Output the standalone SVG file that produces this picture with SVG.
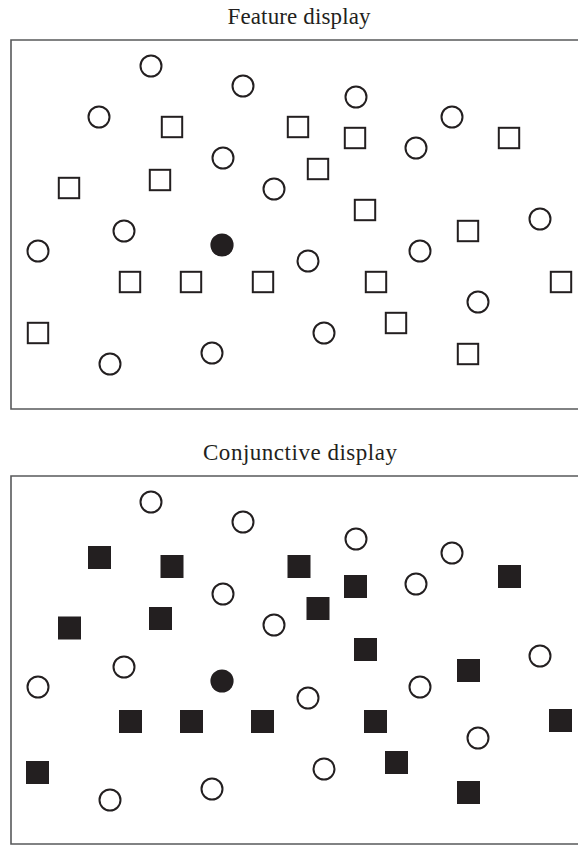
<svg xmlns="http://www.w3.org/2000/svg" xmlns:xlink="http://www.w3.org/1999/xlink" width="578" height="845" viewBox="0 0 578 845">
  <style>
    .title { font-family: "Liberation Serif", "Times New Roman", serif; font-size: 23px; fill: #231f20; text-anchor: middle; }
    .frame { fill: none; stroke: #58595b; stroke-width: 1.6; }
    .ring { fill: #ffffff; stroke: #231f20; stroke-width: 2; }
    .dot { fill: #231f20; }
    .box { fill: #ffffff; stroke: #231f20; stroke-width: 2; }
    .block { fill: #231f20; }
  </style>
  <defs>
    <circle id="ring" r="10.5" class="ring"/>
    <circle id="dot" r="11.6" class="dot"/>
    <rect id="box" x="-10.2" y="-10.2" width="20.4" height="20.4" class="box"/>
    <rect id="block" x="-11.5" y="-11.5" width="23" height="23" class="block"/>
  </defs>
  <rect width="578" height="845" fill="#ffffff"/>

  <!-- Feature display: target differs from distractors by a single feature -->
  <g id="feature-display">
    <text class="title" x="299" y="24" textLength="143" lengthAdjust="spacing">Feature display</text>
    <path class="frame" d="M590 40 H11 V409 H590"/>
    <g id="feature-circles">
      <use xlink:href="#ring" x="151" y="66"/>
      <use xlink:href="#ring" x="243" y="86"/>
      <use xlink:href="#ring" x="99" y="117"/>
      <use xlink:href="#ring" x="356" y="97"/>
      <use xlink:href="#ring" x="452" y="117"/>
      <use xlink:href="#ring" x="416" y="148"/>
      <use xlink:href="#ring" x="223" y="158"/>
      <use xlink:href="#ring" x="274" y="189"/>
      <use xlink:href="#ring" x="540" y="219"/>
      <use xlink:href="#ring" x="124" y="231"/>
      <use xlink:href="#ring" x="38" y="251"/>
      <use xlink:href="#ring" x="420" y="251"/>
      <use xlink:href="#ring" x="308" y="261"/>
      <use xlink:href="#ring" x="478" y="302"/>
      <use xlink:href="#ring" x="324" y="333"/>
      <use xlink:href="#ring" x="110" y="364"/>
      <use xlink:href="#ring" x="212" y="353"/>
    </g>
    <g id="feature-squares">
      <use xlink:href="#box" x="172" y="127"/>
      <use xlink:href="#box" x="298" y="127"/>
      <use xlink:href="#box" x="355" y="138"/>
      <use xlink:href="#box" x="509" y="138"/>
      <use xlink:href="#box" x="318" y="169"/>
      <use xlink:href="#box" x="160" y="180"/>
      <use xlink:href="#box" x="69" y="188"/>
      <use xlink:href="#box" x="365" y="210"/>
      <use xlink:href="#box" x="468" y="231"/>
      <use xlink:href="#box" x="130" y="282"/>
      <use xlink:href="#box" x="191" y="282"/>
      <use xlink:href="#box" x="263" y="282"/>
      <use xlink:href="#box" x="376" y="282"/>
      <use xlink:href="#box" x="561" y="282"/>
      <use xlink:href="#box" x="396" y="323"/>
      <use xlink:href="#box" x="38" y="333"/>
      <use xlink:href="#box" x="468" y="354"/>
    </g>
    <g id="feature-target">
      <use xlink:href="#dot" x="222" y="245"/>
    </g>
  </g>

  <!-- Conjunctive display: target shares colour with squares and shape with circles -->
  <g id="conjunctive-display">
    <text class="title" x="300" y="460" textLength="194" lengthAdjust="spacing">Conjunctive display</text>
    <path class="frame" d="M590 476 H11 V844 H590"/>
    <g id="conjunctive-circles">
      <use xlink:href="#ring" x="151" y="502"/>
      <use xlink:href="#ring" x="243" y="522"/>
      <use xlink:href="#ring" x="356" y="539"/>
      <use xlink:href="#ring" x="452" y="553"/>
      <use xlink:href="#ring" x="416" y="584"/>
      <use xlink:href="#ring" x="223" y="594"/>
      <use xlink:href="#ring" x="274" y="625"/>
      <use xlink:href="#ring" x="540" y="656"/>
      <use xlink:href="#ring" x="124" y="667"/>
      <use xlink:href="#ring" x="38" y="687"/>
      <use xlink:href="#ring" x="420" y="687"/>
      <use xlink:href="#ring" x="308" y="698"/>
      <use xlink:href="#ring" x="478" y="738"/>
      <use xlink:href="#ring" x="324" y="769"/>
      <use xlink:href="#ring" x="110" y="800"/>
      <use xlink:href="#ring" x="212" y="789"/>
    </g>
    <g id="conjunctive-squares">
      <use xlink:href="#block" x="99.5" y="557.5"/>
      <use xlink:href="#block" x="172" y="566.5"/>
      <use xlink:href="#block" x="299" y="566.5"/>
      <use xlink:href="#block" x="355.5" y="586.5"/>
      <use xlink:href="#block" x="509.5" y="576.5"/>
      <use xlink:href="#block" x="318" y="608.5"/>
      <use xlink:href="#block" x="160.5" y="618.5"/>
      <use xlink:href="#block" x="69.5" y="628"/>
      <use xlink:href="#block" x="365.5" y="649.5"/>
      <use xlink:href="#block" x="468.5" y="670.5"/>
      <use xlink:href="#block" x="130.5" y="721.5"/>
      <use xlink:href="#block" x="191.5" y="721.5"/>
      <use xlink:href="#block" x="262.5" y="721.5"/>
      <use xlink:href="#block" x="375.5" y="721.5"/>
      <use xlink:href="#block" x="560.5" y="720.5"/>
      <use xlink:href="#block" x="396.5" y="762.5"/>
      <use xlink:href="#block" x="37.5" y="772.5"/>
      <use xlink:href="#block" x="468.5" y="792.5"/>
    </g>
    <g id="conjunctive-target">
      <use xlink:href="#dot" x="222" y="681"/>
    </g>
  </g>
</svg>
